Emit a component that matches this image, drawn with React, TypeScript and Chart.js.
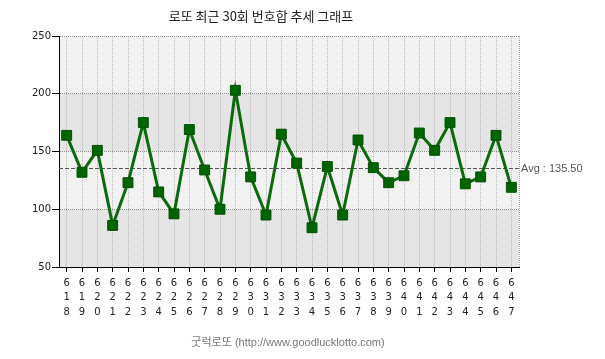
import React, { useEffect, useRef } from "react";
import { Chart, registerables } from "chart.js";

Chart.register(...registerables);

const TITLE = "로또 최근 30회 번호합 추세 그래프";
const FOOTER = "굿럭로또 (http://www.goodlucklotto.com)";
const ROUNDS = [
  618, 619, 620, 621, 622, 623, 624, 625, 626, 627,
  628, 629, 630, 631, 632, 633, 634, 635, 636, 637,
  638, 639, 640, 641, 642, 643, 644, 645, 646, 647,
];
const SUMS = [
  164, 132, 151, 86, 123, 175, 115, 96, 169, 134,
  100, 203, 128, 95, 165, 140, 84, 137, 95, 160,
  136, 123, 129, 166, 151, 175, 122, 128, 164, 119,
];
const AVG = 135.5;
const Y_MIN = 50;
const Y_MAX = 250;
const Y_STEP = 50;

const bandsPlugin = {
  id: "bands",
  beforeDraw(chart: any) {
    const { ctx, chartArea: a, scales } = chart;
    const y = scales.y;
    ctx.save();
    let i = 0;
    for (let v = Y_MAX; v > Y_MIN; v -= Y_STEP) {
      const t = y.getPixelForValue(v);
      const b = y.getPixelForValue(v - Y_STEP);
      ctx.fillStyle = i % 2 === 0 ? "#f1f1f1" : "#e5e5e5";
      ctx.fillRect(a.left, t, a.right - a.left, b - t);
      i++;
    }
    ctx.restore();
  },
};

const overlayPlugin = {
  id: "overlay",
  beforeDatasetsDraw(chart: any) {
    const { ctx, chartArea: a, scales } = chart;
    ctx.save();
    ctx.strokeStyle = "#a0a0a0";
    ctx.lineWidth = 1;
    ctx.setLineDash([1, 1]);
    ctx.beginPath();
    ctx.moveTo(Math.round(a.right) + 0.5, a.top);
    ctx.lineTo(Math.round(a.right) + 0.5, a.bottom);
    ctx.stroke();
    const ay = Math.round(scales.y.getPixelForValue(AVG)) + 0.5;
    ctx.strokeStyle = "#555555";
    ctx.setLineDash([4, 2]);
    ctx.beginPath();
    ctx.moveTo(a.left, ay);
    ctx.lineTo(a.right, ay);
    ctx.stroke();
    ctx.setLineDash([]);
    ctx.fillStyle = "#555555";
    ctx.font = "11px 'Liberation Sans', Arial, sans-serif";
    ctx.textAlign = "left";
    ctx.textBaseline = "middle";
    ctx.fillText("Avg : " + AVG.toFixed(2), a.right + 2, ay);
    ctx.restore();
  },
  afterDraw(chart: any) {
    const { ctx } = chart;
    ctx.save();
    ctx.textAlign = "center";
    ctx.textBaseline = "middle";
    ctx.fillStyle = "#222222";
    ctx.font = "13px 'Noto Sans CJK KR', sans-serif";
    ctx.fillText(TITLE, 261, 16);
    ctx.fillStyle = "#777777";
    ctx.font = "11px 'Liberation Sans', 'Noto Sans CJK KR', sans-serif";
    ctx.fillText(FOOTER, 288, 343);
    ctx.restore();
  },
};

export default function App() {
  const ref = useRef<HTMLCanvasElement>(null);
  useEffect(() => {
    if (!ref.current) return;
    const chart = new Chart(ref.current, {
      type: "line",
      data: {
        labels: ROUNDS.map((r) => String(r).split("")),
        datasets: [
          {
            data: SUMS,
            borderColor: "#0b6a0b",
            backgroundColor: "#006400",
            borderWidth: 3,
            tension: 0,
            pointStyle: "rect",
            pointRadius: 7,
            pointBorderWidth: 1,
            pointBorderColor: "#005000",
            pointBackgroundColor: "#006400",
          },
        ],
      },
      options: {
        responsive: false,
        animation: false,
        layout: { padding: { top: 36, left: 0, right: 86, bottom: 0 } },
        plugins: {
          legend: { display: false },
          tooltip: { enabled: false },
          title: { display: false },
        },
        scales: {
          x: {
            type: "category",
            offset: true,
            afterFit: (s: any) => {
              s.height = 92;
            },
            grid: {
              offset: false,
              color: "#b8b8b8",
              lineWidth: 1,
              tickLength: 5,
              tickColor: "#000000",
              drawTicks: true,
            },
            border: { display: true, color: "#000000", width: 1, dash: [1, 1] },
            ticks: {
              autoSkip: false,
              maxRotation: 0,
              minRotation: 0,
              padding: 4,
              color: "#222222",
              font: { family: "'DejaVu Sans', sans-serif", size: 10, lineHeight: 1.45 },
            },
          },
          y: {
            min: Y_MIN,
            max: Y_MAX,
            afterFit: (s: any) => {
              s.width = 59;
            },
            grid: {
              color: "#8c8c8c",
              lineWidth: 1,
              tickLength: 7,
              tickColor: "#000000",
            },
            border: { display: true, color: "#000000", width: 1, dash: [1, 1] },
            ticks: {
              stepSize: Y_STEP,
              padding: 1,
              color: "#222222",
              font: { family: "'DejaVu Sans', sans-serif", size: 10 },
            },
          },
        },
      },
      plugins: [bandsPlugin, overlayPlugin],
    } as any);
    return () => chart.destroy();
  }, []);
  return (
    <div style={{ position: "absolute", left: 0, top: 0, width: 605, height: 359, background: "#ffffff" }}>
      <canvas ref={ref} width={605} height={359} style={{ display: "block" }} />
    </div>
  );
}
